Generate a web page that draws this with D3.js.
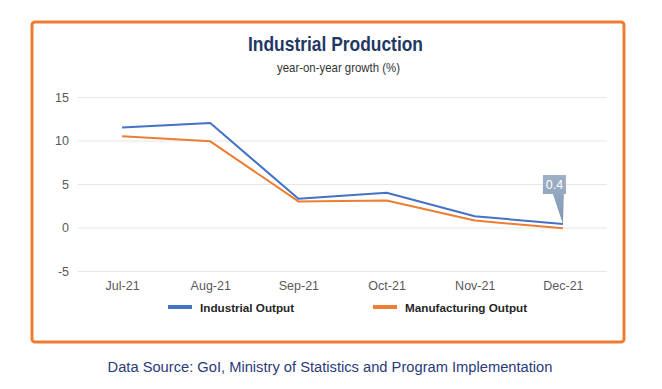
<!DOCTYPE html>
<html>
<head>
<meta charset="utf-8">
<script src="https://cdn.jsdelivr.net/npm/d3@7"></script>
<style>
  body { margin: 0; background: #fff; }
  text { font-family: "Liberation Sans", Arial, sans-serif; }
</style>
</head>
<body>
<div class="line-chart"></div>
<script>
var months = ['Jul-21', 'Aug-21', 'Sep-21', 'Oct-21', 'Nov-21', 'Dec-21'];
var industrialOutput = [11.5, 12.0, 3.3, 4.0, 1.3, 0.4];
var manufacturingOutput = [10.5, 9.9, 3.0, 3.1, 0.8, -0.1];
var yTicks = [-5, 0, 5, 10, 15];

var series = [
  { name: 'Industrial Output', values: industrialOutput, color: '#4472c4' },
  { name: 'Manufacturing Output', values: manufacturingOutput, color: '#ed7d31' }
];

var width = 662, height = 389;
var plot = { left: 78, right: 607, top: 97, bottom: 271 };

var svg = d3.select('.line-chart').append('svg')
    .attr('width', width)
    .attr('height', height);

// orange frame
svg.append('rect')
    .attr('x', 32).attr('y', 22)
    .attr('width', 592).attr('height', 320)
    .attr('rx', 3)
    .attr('fill', 'none')
    .attr('stroke', '#ed7d31')
    .attr('stroke-width', 3);

// title is a condensed face in the original, so squeeze it
svg.append('text')
    .attr('x', 248).attr('y', 51)
    .attr('textLength', 175)
    .attr('lengthAdjust', 'spacingAndGlyphs')
    .style('font-weight', 'bold')
    .style('font-size', '20px')
    .attr('fill', '#1f3864')
    .text('Industrial Production');

svg.append('text')
    .attr('x', 277).attr('y', 72)
    .attr('textLength', 123)
    .attr('lengthAdjust', 'spacingAndGlyphs')
    .style('font-size', '13px')
    .attr('fill', '#333')
    .text('year-on-year growth (%)');

var xScale = d3.scalePoint()
    .domain(months)
    .range([plot.left, plot.right])
    .padding(0.5);

var yScale = d3.scaleLinear()
    .domain([-5, 15])
    .range([plot.bottom, plot.top]);

// gridlines
svg.append('g')
    .attr('class', 'grid')
    .attr('transform', 'translate(' + plot.left + ',0)')
    .call(d3.axisLeft(yScale).tickValues(yTicks).tickSize(-(plot.right - plot.left)).tickFormat(''))
    .call(function(g) {
      g.select('.domain').remove();
      g.selectAll('line').attr('stroke', '#e6e6e6');
    });

// y labels
svg.append('g')
    .attr('transform', 'translate(' + 69 + ',0)')
    .call(d3.axisLeft(yScale).tickValues(yTicks).tickSize(0).tickPadding(0)
      .tickFormat(function(d) { return String(d); }))
    .call(function(g) {
      g.select('.domain').remove();
      g.selectAll('text')
          .style('font-size', '12.5px')
          .attr('fill', '#595959');
    });

// x labels
svg.append('g')
    .attr('transform', 'translate(0,' + (plot.bottom + 4) + ')')
    .call(d3.axisBottom(xScale).tickSize(0).tickPadding(6))
    .call(function(g) {
      g.select('.domain').remove();
      g.selectAll('text')
          .style('font-size', '12.5px')
          .attr('fill', '#595959');
    });

var line = d3.line()
    .x(function(d, i) { return xScale(months[i]); })
    .y(function(d) { return yScale(d); });

series.slice().reverse().forEach(function(s) {
  svg.append('path')
      .datum(s.values)
      .attr('fill', 'none')
      .attr('stroke', s.color)
      .attr('stroke-width', 2)
      .attr('stroke-linejoin', 'round')
      .attr('d', line);
});

// data callout on last industrial point
var lastIdx = months.length - 1;
var px = xScale(months[lastIdx]);
var py = yScale(industrialOutput[lastIdx]);
var bx = px - 20, by = py - 49, bw = 23, bh = 19;
var defs = svg.append('defs');
var grad = defs.append('linearGradient')
    .attr('id', 'callout').attr('x1', 0).attr('y1', 0).attr('x2', 0).attr('y2', 1);
grad.append('stop').attr('offset', '0%').attr('stop-color', '#9fb1c7');
grad.append('stop').attr('offset', '100%').attr('stop-color', '#7f96b2');

svg.append('path')
    .attr('d', 'M' + bx + ',' + by + 'h' + bw + 'v' + bh + 'h-2' +
      'L' + px + ',' + py + 'L' + (bx + 10) + ',' + (by + bh) + 'H' + bx + 'Z')
    .attr('fill', 'url(#callout)');

svg.append('text')
    .attr('x', bx + bw / 2).attr('y', by + 14)
    .attr('text-anchor', 'middle')
    .style('font-size', '12.5px')
    .attr('fill', '#fff')
    .text(d3.format('.1f')(industrialOutput[lastIdx]));

// legend
var legendX = [168, 373];
series.forEach(function(s, i) {
  var g = svg.append('g').attr('transform', 'translate(' + legendX[i] + ',307)');
  g.append('line')
      .attr('x1', 0).attr('x2', 24)
      .attr('stroke', s.color)
      .attr('stroke-width', 4);
  g.append('text')
      .attr('x', 32).attr('y', 4.5)
      .style('font-size', '11.7px')
      .style('font-weight', 'bold')
      .attr('fill', '#262626')
      .text(s.name);
});

svg.append('text')
    .attr('x', 330).attr('y', 372)
    .attr('text-anchor', 'middle')
    .style('font-size', '14.7px')
    .attr('fill', '#2b3a7a')
    .text('Data Source: GoI, Ministry of Statistics and Program Implementation');
</script>
</body>
</html>
